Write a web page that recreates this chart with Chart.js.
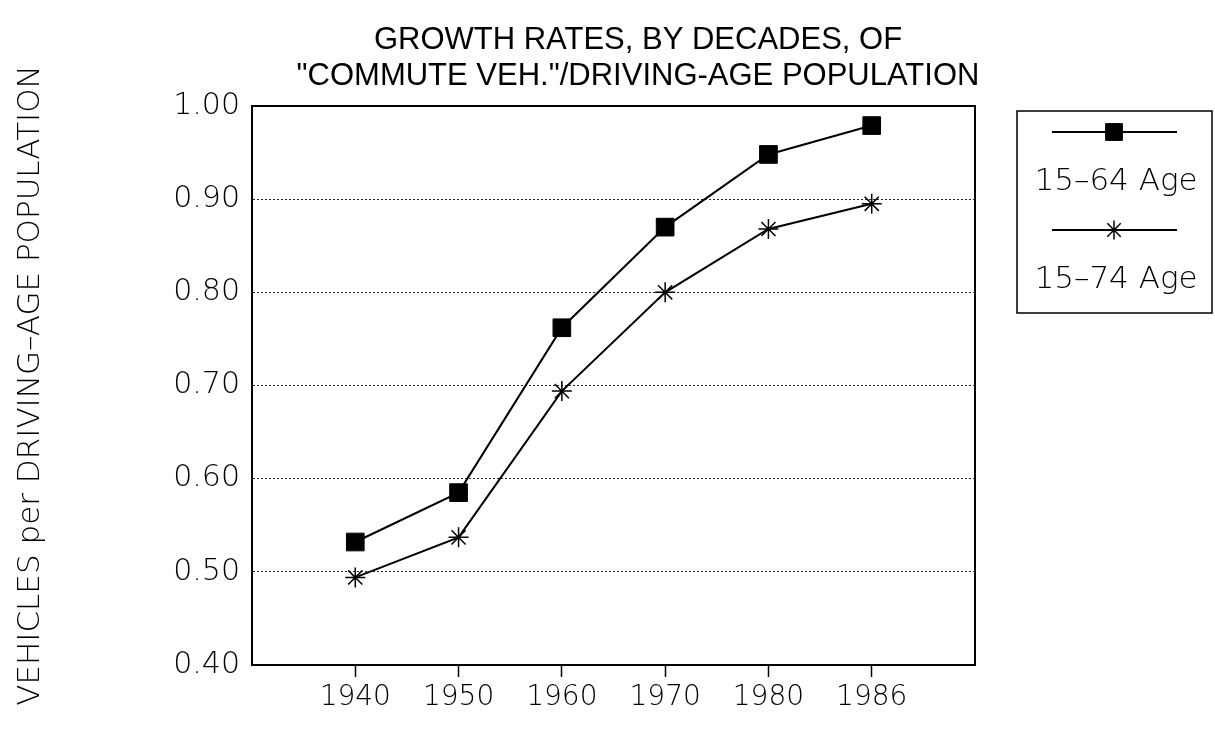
<!DOCTYPE html>
<html>
<head>
<meta charset="utf-8">
<script src="https://cdn.jsdelivr.net/npm/chart.js@4.4.1/dist/chart.umd.min.js"></script>
<style>
  html, body { margin: 0; padding: 0; background: #fff; }
  #wrap { width: 1215px; height: 742px; position: relative; }
</style>
</head>
<body>
<div id="wrap"><canvas id="c" width="1215" height="742"></canvas></div>
<script>
const categories = ['', '1940', '1950', '1960', '1970', '1980', '1986', ''];
const age1564 = [null, 0.532, 0.585, 0.762, 0.870, 0.948, 0.979, null];
const age1574 = [null, 0.494, 0.537, 0.694, 0.800, 0.868, 0.895, null];
const seriesLabels = ['15–64 Age', '15–74 Age'];
const titleLines = ['GROWTH RATES, BY DECADES, OF', '"COMMUTE VEH."/DRIVING-AGE POPULATION'];
const yAxisTitle = 'VEHICLES per DRIVING–AGE POPULATION';
const yMin = 0.40, yMax = 1.00, yStep = 0.10;

const thinFont = 'DejaVu Sans';

const titlePlugin = {
  id: 'customTitle',
  afterDraw(chart) {
    const ctx = chart.ctx;
    ctx.save();
    ctx.fillStyle = '#000';
    ctx.font = '31px "Liberation Sans", Arial, sans-serif';
    ctx.textAlign = 'center';
    ctx.textBaseline = 'middle';
    ctx.fillText(titleLines[0], 638, 40);
    ctx.fillText(titleLines[1], 638, 76);
    ctx.restore();
  }
};

const framePlugin = {
  id: 'frame',
  afterDatasetsDraw(chart) {
    const a = chart.chartArea, ctx = chart.ctx;
    ctx.save();
    ctx.strokeStyle = '#000';
    ctx.lineWidth = 2;
    ctx.strokeRect(a.left, a.top, a.right - a.left, a.bottom - a.top);
    ctx.restore();
  }
};

const legendPlugin = {
  id: 'boxLegend',
  afterDraw(chart) {
    const a = chart.chartArea, ctx = chart.ctx;
    const bx = a.right + 42, by = a.top + 5, bw = 195, bh = 202;
    ctx.save();
    ctx.strokeStyle = '#000';
    ctx.lineWidth = 1.5;
    ctx.strokeRect(bx, by, bw, bh);
    chart.data.datasets.forEach((ds, i) => {
      const ly = by + 21 + i * 98;
      ctx.strokeStyle = '#000';
      ctx.lineWidth = 2;
      ctx.beginPath();
      ctx.moveTo(bx + 35, ly);
      ctx.lineTo(bx + 160, ly);
      ctx.stroke();
      ctx.fillStyle = '#000';
      ctx.lineWidth = ds.pointBorderWidth;
      Chart.helpers.drawPoint(ctx, {
        pointStyle: ds.pointStyle,
        radius: ds.pointRadius * 0.95,
        borderWidth: ds.pointBorderWidth,
        rotation: 0
      }, bx + 97, ly);
      ctx.fillStyle = '#000';
      ctx.font = '200 31px "' + thinFont + '", sans-serif';
      ctx.textAlign = 'center';
      ctx.textBaseline = 'middle';
      ctx.fillText(ds.label, bx + 99, ly + 50);
    });
    ctx.restore();
  }
};

new Chart(document.getElementById('c'), {
  type: 'line',
  data: {
    labels: categories,
    datasets: [
      {
        label: seriesLabels[0],
        data: age1564,
        borderColor: '#000',
        backgroundColor: '#000',
        borderWidth: 2,
        pointStyle: 'rect',
        pointRadius: 12.5,
        pointBackgroundColor: '#000',
        pointBorderColor: '#000',
        pointBorderWidth: 1,
        tension: 0
      },
      {
        label: seriesLabels[1],
        data: age1574,
        borderColor: '#000',
        backgroundColor: '#000',
        borderWidth: 2,
        pointStyle: 'star',
        pointRadius: 10,
        pointBackgroundColor: '#000',
        pointBorderColor: '#000',
        pointBorderWidth: 1.5,
        tension: 0
      }
    ]
  },
  options: {
    responsive: false,
    animation: false,
    devicePixelRatio: 1,
    layout: { padding: { left: 0, right: 240, top: 106, bottom: 0 } },
    plugins: {
      legend: { display: false },
      title: { display: false },
      tooltip: { enabled: false }
    },
    scales: {
      x: {
        type: 'category',
        offset: false,
        afterFit(scale) { scale.height = 77; },
        grid: {
          drawOnChartArea: false,
          drawTicks: true,
          tickLength: 12,
          tickWidth: 1.5,
          color: (c) => (c.tick && c.tick.label) ? '#000' : 'rgba(0,0,0,0)',
          tickColor: (c) => (c.tick && c.tick.label) ? '#000' : 'rgba(0,0,0,0)'
        },
        border: { display: true, color: '#000', width: 2 },
        ticks: {
          color: '#000',
          autoSkip: false,
          maxRotation: 0,
          padding: 4,
          font: { family: thinFont, size: 28, weight: '200' }
        }
      },
      y: {
        min: yMin,
        max: yMax,
        afterFit(scale) { scale.width = 252; },
        grid: {
          drawTicks: false,
          color: '#222',
          lineWidth: 1
        },
        border: { display: true, color: '#000', width: 2, dash: [2, 2] },
        ticks: {
          stepSize: yStep,
          color: '#000',
          padding: 12,
          font: { family: thinFont, size: 30, weight: '200' },
          callback: (v) => Number(v).toFixed(2)
        },
        title: {
          display: true,
          text: yAxisTitle,
          color: '#000',
          font: { family: thinFont, size: 31, weight: '200' },
          padding: { top: 12, bottom: 0 }
        }
      }
    }
  },
  plugins: [titlePlugin, framePlugin, legendPlugin]
});
</script>
</body>
</html>
